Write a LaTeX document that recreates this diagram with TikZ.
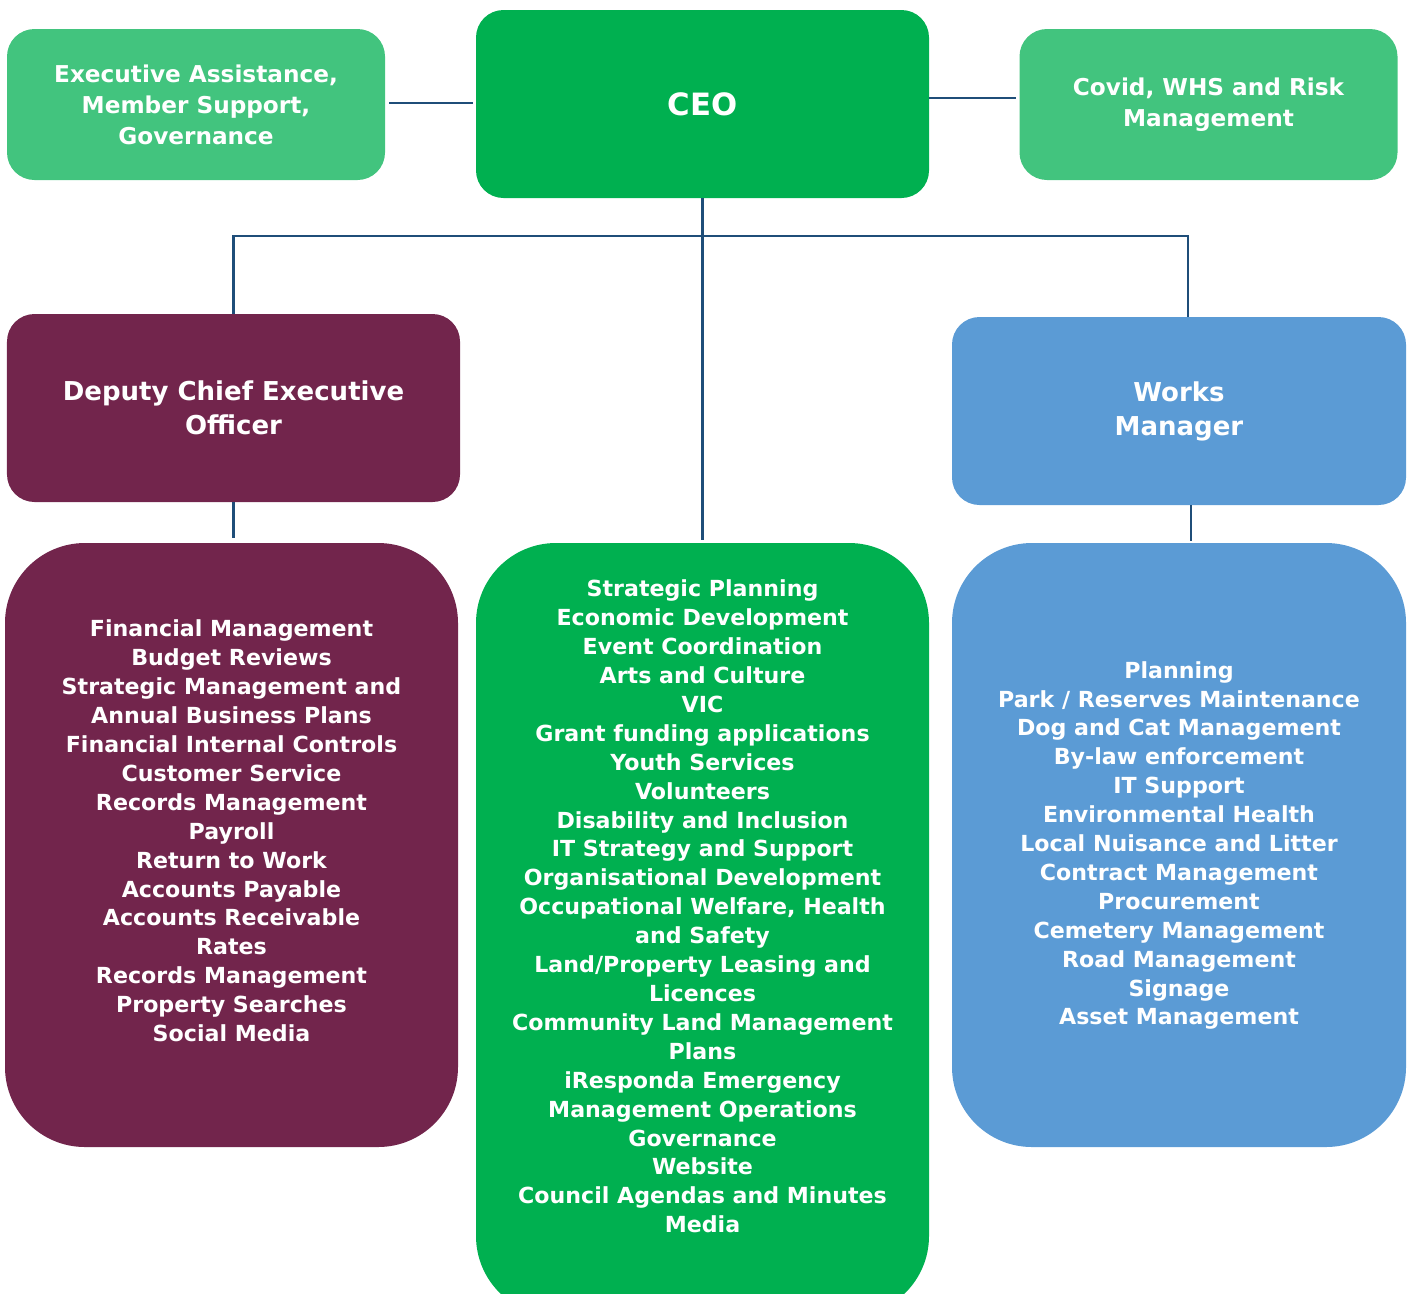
\documentclass[tikz,border=0pt]{standalone}
\usepackage{fontspec}
\setmainfont{DejaVu Sans}
\usetikzlibrary{positioning}
\definecolor{leafgreen}{HTML}{42C47E}
\definecolor{ceogreen}{HTML}{00B050}
\definecolor{deputy}{HTML}{72254C}
\definecolor{works}{HTML}{5B9BD5}
\definecolor{linkblue}{HTML}{1F4E79}

\begin{document}
\begin{tikzpicture}[
    box/.style={rounded corners=0.55cm, inner sep=0pt, align=center, text=white},
    sidebox/.style={box, fill=leafgreen, minimum width=7.56cm, minimum height=3.02cm,
        font=\fontsize{13.2}{17.6}\selectfont\bfseries},
    headbox/.style={box, minimum width=9.06cm, minimum height=3.76cm,
        font=\fontsize{14.8}{19.3}\selectfont\bfseries},
    listbox/.style={rounded corners=1.6cm, minimum width=9.06cm},
    listtext/.style={align=center, text=white, inner sep=0pt,
        font=\fontsize{12.6}{16.45}\selectfont\bfseries},
    link/.style={draw=linkblue, line width=1.6pt}
]
\useasboundingbox (0,0) rectangle (28.3,-25.86);

% Top row
\node[headbox, fill=ceogreen, font=\fontsize{17.5}{21}\selectfont\bfseries] (ceo) at (14.05,-2.08) {CEO};
\node[sidebox] (exec) at (3.92,-2.09) {Executive Assistance,\\Member Support,\\Governance};
\node[sidebox] (covid) at (24.17,-2.09) {Covid, WHS and Risk\\Management};

% Managers
\node[headbox, fill=deputy] (dceo) at (4.67,-8.16) {Deputy Chief Executive\\Officer};
\node[headbox, fill=works, minimum width=9.08cm] (wm) at (23.58,-8.22) {Works\\Manager};

% Lists (boxes)
\node[listbox, fill=deputy, minimum height=12.08cm] (dceoList) at (4.63,-16.90) {};
\node[listbox, fill=ceogreen, minimum height=15.46cm] (ceoList) at (14.05,-18.59) {};
\node[listbox, fill=works, minimum width=9.08cm, minimum height=12.08cm] (wmList) at (23.58,-16.90) {};

% Lists (text)
\node[listtext] (dceoItems) at (4.63,-16.62) {
    Financial Management\\Budget Reviews\\Strategic Management and\\Annual Business Plans\\
    Financial Internal Controls\\Customer Service\\Records Management\\Payroll\\
    Return to Work\\Accounts Payable\\Accounts Receivable\\Rates\\
    Records Management\\Property Searches\\Social Media
};
\node[listtext] (ceoItems) at (14.05,-18.13) {
    Strategic Planning\\Economic Development\\Event Coordination\\Arts and Culture\\VIC\\
    Grant funding applications\\Youth Services\\Volunteers\\Disability and Inclusion\\
    IT Strategy and Support\\Organisational Development\\Occupational Welfare, Health\\
    and Safety\\Land/Property Leasing and\\Licences\\Community Land Management\\Plans\\
    iResponda Emergency\\Management Operations\\Governance\\Website\\
    Council Agendas and Minutes\\Media
};
\node[listtext] (wmItems) at (23.58,-16.91) {
    Planning\\Park / Reserves Maintenance\\Dog and Cat Management\\By-law enforcement\\
    IT Support\\Environmental Health\\Local Nuisance and Litter\\Contract Management\\
    Procurement\\Cemetery Management\\Road Management\\Signage\\Asset Management
};

% Connectors
\coordinate (bus) at (0,-4.72);
\draw[link, shorten <=0.08cm, shorten >=0.06cm] ([yshift=0.03cm]exec.east) -- ([yshift=0.03cm]exec.east -| ceo.west);
\draw[link, shorten >=0.06cm] ([yshift=0.12cm]ceo.east) -- ([yshift=0.12cm]ceo.east -| covid.west);
\draw[link, shorten >=0.06cm] (ceo.south) -- (ceoList.north);
\draw[link] (dceo.north) -- (dceo.north |- bus) -- ([xshift=0.18cm]wm.north |- bus) -- ([xshift=0.18cm]wm.north);
\draw[link, shorten >=0.1cm] (dceo.south) -- (dceo.south |- dceoList.north);
\draw[link, shorten >=0.04cm] ([xshift=0.24cm]wm.south) -- ([xshift=0.24cm]wm.south |- wmList.north);

\end{tikzpicture}
\end{document}
